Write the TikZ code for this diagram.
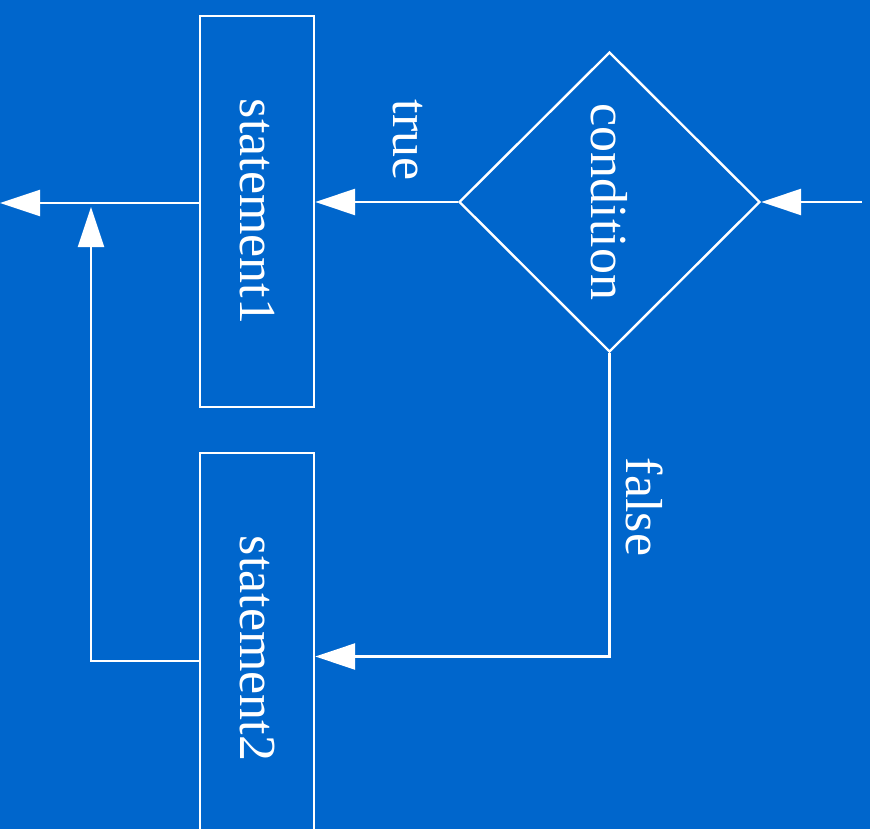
\documentclass[tikz,border=0pt]{standalone}
\usepackage{fontspec}
\setmainfont{Liberation Serif}
\usetikzlibrary{shapes.geometric,arrows.meta}
\definecolor{ChartBlue}{HTML}{0066CC}

\begin{document}
\begin{tikzpicture}[x=1pt,y=-1pt, line width=2.4pt,
  every node/.style={font=\fontsize{52}{60}\selectfont, text=white},
  stmtbox/.style={draw=white, minimum width=114pt, minimum height=391pt, inner sep=0pt},
  flow/.style={draw=white, -{Triangle[length=40pt,width=26pt]}}]
  \fill[ChartBlue] (0,0) rectangle (870,829);
  \clip (0,0) rectangle (870,829);
  % boxes
  \node[stmtbox] (stmt1) at (257,211.5) {\rotatebox{-90}{statement1}};
  \node[stmtbox] (stmt2) at (257,648.5) {\rotatebox{-90}{statement2}};
  \node[diamond, draw=white, minimum width=301pt, minimum height=300pt, inner sep=0pt]
    (cond) at (609.5,202) {\rotatebox{-90}{condition}};
  \node (lbltrue) at (408,140) {\rotatebox{-90}{true}};
  \node (lblfalse) at (645,507) {\rotatebox{-90}{false}};
  % free ends
  \coordinate (entry) at (862,202);
  \coordinate (exit) at (0,203);
  \coordinate (merge) at (91,207);
  % connectors
  \draw[flow] (entry) -- (cond.east);
  \draw[flow] (cond.west) -- (cond.west -| stmt1.east);
  \draw[flow] (stmt1.west |- exit) -- (exit);
  \draw[flow] (cond.south) |- ([yshift=-8pt]stmt2.east);
  \draw[flow] ([yshift=-12.5pt]stmt2.west) -| (merge);
\end{tikzpicture}
\end{document}
